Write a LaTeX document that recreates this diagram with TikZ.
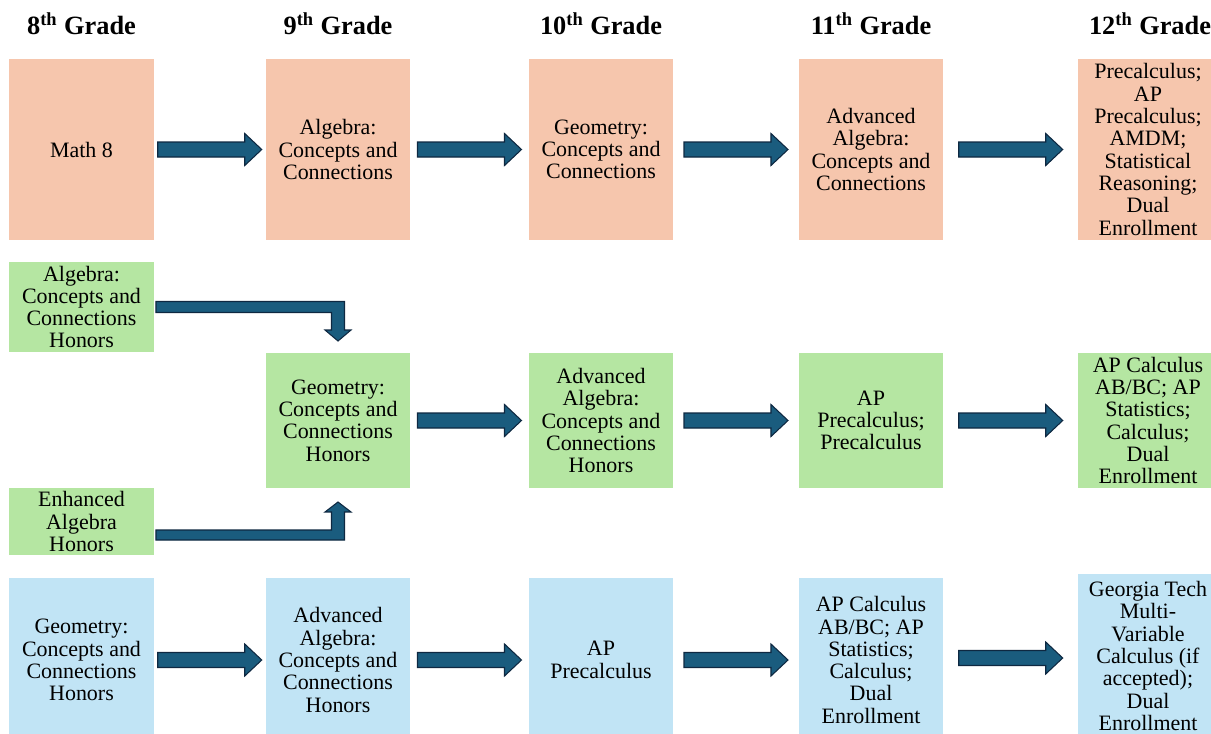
\documentclass[tikz,border=0pt]{standalone}
\usepackage{fontspec}
\setmainfont{Liberation Serif}
\usepackage{tikz}
\usetikzlibrary{calc}
\usetikzlibrary{positioning}
\usepackage{xcolor}

\definecolor{peach}{HTML}{F6C6AD}
\definecolor{mint}{HTML}{B5E6A2}
\definecolor{sky}{HTML}{C1E4F5}
\definecolor{arrowfill}{HTML}{1A5C7E}
\definecolor{arrowline}{HTML}{0E2841}

\begin{document}
\begin{tikzpicture}[x=0.02cm,y=-0.02cm,
    course/.style={inner sep=0pt,outer sep=0pt,align=center,minimum width=2.9cm,font=\fontsize{12.5}{12.7}\selectfont},
    basic/.style={course,fill=peach,minimum height=3.62cm},
    honors/.style={course,fill=mint,minimum height=2.7cm},
    accel/.style={course,fill=sky,minimum height=3.28cm},
    grade/.style={font=\fontsize{15}{16}\selectfont\bfseries},
    blockarrow/.style={fill=arrowfill,draw=arrowline,line width=0.6pt,line join=miter}]
  \useasboundingbox (0,0) rectangle (1211,734);
  \clip (0,0) rectangle (1211,734);

  \node [grade] (h8) at (81.5,24) {8\textsuperscript{th} Grade};
  \node [grade] (h9) at (338,24) {9\textsuperscript{th} Grade};
  \node [grade] (h10) at (601,24) {10\textsuperscript{th} Grade};
  \node [grade] (h11) at (871,24) {11\textsuperscript{th} Grade};
  \node [grade] (h12) at (1150,24) {12\textsuperscript{th} Grade};

  % standard track
  \node [basic] (math8) at (81.5,149.5) {Math 8};
  \node [basic] (algcc) at (338,149.5) {Algebra:\\Concepts and\\Connections};
  \node [basic] (geocc) at (601,149.5) {Geometry:\\Concepts and\\Connections};
  \node [basic] (advalg) at (871,149.5) {Advanced\\Algebra:\\Concepts and\\Connections};
  \node [basic,minimum width=2.8cm] (senior) at (1148,149.5) {Precalculus;\\AP\\Precalculus;\\AMDM;\\Statistical\\Reasoning;\\Dual\\Enrollment};

  % honors track
  \node [honors,minimum height=1.8cm] (honalg) at (81.5,307) {Algebra:\\Concepts and\\Connections\\Honors};
  \node [honors,minimum height=1.34cm] (enhalg) at (81.5,521.5) {Enhanced\\Algebra\\Honors};
  \node [honors] (geohon) at (338,420.5) {Geometry:\\Concepts and\\Connections\\Honors};
  \node [honors] (advhon) at (601,420.5) {Advanced\\Algebra:\\Concepts and\\Connections\\Honors};
  \node [honors] (precalchon) at (871,420.5) {AP\\Precalculus;\\Precalculus};
  \node [honors,minimum width=2.8cm] (calchon) at (1148,420.5) {AP Calculus\\AB/BC; AP\\Statistics;\\Calculus;\\Dual\\Enrollment};

  % accelerated track
  \node [accel] (geohon8) at (81.5,660) {Geometry:\\Concepts and\\Connections\\Honors};
  \node [accel] (advhon9) at (338,660) {Advanced\\Algebra:\\Concepts and\\Connections\\Honors};
  \node [accel] (apprecalc) at (601,660) {AP\\Precalculus};
  \node [accel] (apcalc) at (871,660) {AP Calculus\\AB/BC; AP\\Statistics;\\Calculus;\\Dual\\Enrollment};
  \node [accel,minimum width=2.8cm] (gatech) at (1148,656) {Georgia Tech\\Multi-\\Variable\\Calculus (if\\accepted);\\Dual\\Enrollment};

  \foreach \a/\b in {math8/algcc,algcc/geocc,geocc/advalg,advalg/senior,
                     geohon/advhon,advhon/precalchon,precalchon/calchon,
                     geohon8/advhon9,advhon9/apprecalc,apprecalc/apcalc,apcalc/gatech}
    \draw [blockarrow] let \p3=($(\a.east)!0.5!(\b.west)$) in
      (\x3-1.04cm,\y3+0.15cm) -- (\x3+0.70cm,\y3+0.15cm) -- (\x3+0.70cm,\y3+0.32cm)
      -- (\x3+1.04cm,\y3) -- (\x3+0.70cm,\y3-0.32cm) -- (\x3+0.70cm,\y3-0.15cm)
      -- (\x3-1.04cm,\y3-0.15cm) -- cycle;

  \draw [blockarrow] let \p1=(honalg.east), \p2=(geohon.north) in
    (\x1+0.04cm,\y1+0.11cm) -- (\x2+0.13cm,\y1+0.11cm) -- (\x2+0.13cm,\y2+0.46cm)
    -- (\x2+0.26cm,\y2+0.46cm) -- (\x2,\y2+0.24cm) -- (\x2-0.26cm,\y2+0.46cm)
    -- (\x2-0.13cm,\y2+0.46cm) -- (\x2-0.13cm,\y1-0.11cm) -- (\x1+0.04cm,\y1-0.11cm) -- cycle;

  \draw [blockarrow] let \p1=(enhalg.east), \p2=(geohon.south) in
    (\x1+0.04cm,\y1-0.17cm) -- (\x2-0.13cm,\y1-0.17cm) -- (\x2-0.13cm,\y2-0.48cm)
    -- (\x2-0.26cm,\y2-0.48cm) -- (\x2,\y2-0.28cm) -- (\x2+0.26cm,\y2-0.48cm)
    -- (\x2+0.13cm,\y2-0.48cm) -- (\x2+0.13cm,\y1-0.37cm) -- (\x1+0.04cm,\y1-0.37cm) -- cycle;

\end{tikzpicture}
\end{document}
